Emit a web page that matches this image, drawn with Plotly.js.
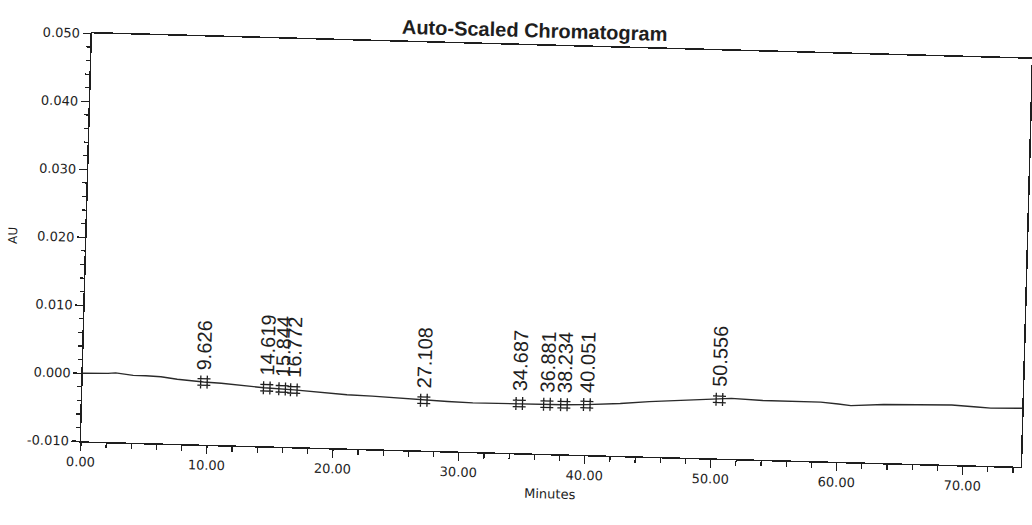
<!DOCTYPE html>
<html>
<head>
<meta charset="utf-8">
<script src="https://cdn.plot.ly/plotly-3.0.1.min.js"></script>
<style>
  html, body { margin: 0; padding: 0; background: #ffffff; overflow: hidden; }
  #chart { width: 1032px; height: 525px; transform: rotate(1.55deg); transform-origin: 50% 50%; }
</style>
</head>
<body>
<div id="chart"></div>
<script>
// Baseline trace (minutes, AU)
const timeMin = [0, 1, 2, 2.6, 3.2, 4, 5, 6.2, 7.5, 8.6, 9.6, 11, 12.5, 14.4, 16.8, 18.9, 21, 23, 25, 27, 29, 31, 33, 35, 37, 38.2, 40, 42.7, 45, 47.5, 50.6, 51.5, 54, 56, 58.6, 60, 61, 63.6, 66, 68.4, 69, 71, 72.1, 74.6];
const absorbance = [0.0000, 0.0000, 0.0001, 0.0002, 0.0001, -0.0001, -0.0001, -0.0002, -0.0005, -0.0007, -0.0008, -0.0009, -0.0011, -0.0014, -0.0016, -0.0019, -0.0021, -0.0022, -0.0024, -0.0026, -0.0027, -0.0028, -0.0028, -0.0027, -0.0027, -0.0027, -0.0026, -0.0023, -0.0019, -0.0016, -0.0013, -0.0011, -0.0013, -0.0013, -0.0013, -0.0015, -0.0017, -0.0014, -0.0013, -0.0013, -0.0012, -0.0014, -0.0015, -0.0014];

// Labelled peaks
const peakTimes = [9.626, 14.619, 15.844, 16.772, 27.108, 34.687, 36.881, 38.234, 40.051, 50.556];
const peakHeights = [-0.0008, -0.0014, -0.0015, -0.0016, -0.0026, -0.0027, -0.0027, -0.0027, -0.0026, -0.0013];
const peakLabels = ["9.626", "14.619", "15.844", "16.772", "27.108", "34.687", "36.881", "38.234", "40.051", "50.556"];

// Axis tick labels
const yTickVals = [-0.010, 0.000, 0.010, 0.020, 0.030, 0.040, 0.050];
const yTickText = ["-0.010", "0.000", "0.010", "0.020", "0.030", "0.040", "0.050"];

const ink = '#1e1e1e';

const traces = [
  {
    x: timeMin, y: absorbance, type: 'scatter', mode: 'lines',
    line: { color: '#2a2a2a', width: 1.4 }, hoverinfo: 'skip', showlegend: false
  },
  {
    x: peakTimes, y: peakHeights, type: 'scatter', mode: 'markers',
    marker: { symbol: 'hash-open', size: 13, color: ink, line: { color: ink, width: 1.3 } },
    hoverinfo: 'skip', showlegend: false
  }
];

const annotations = peakTimes.map((t, i) => ({
  x: t, y: peakHeights[i], xref: 'x', yref: 'y',
  text: peakLabels[i], textangle: -90, showarrow: false,
  xanchor: 'center', yanchor: 'bottom', yshift: 10,
  font: { family: 'Liberation Sans, Arial, sans-serif', size: 20, color: ink }
}));

const layout = {
  width: 1032, height: 525,
  margin: { l: 86, r: 6, t: 45, b: 72 },
  paper_bgcolor: '#ffffff', plot_bgcolor: '#ffffff',
  showlegend: false,
  title: {
    text: '<b>Auto-Scaled Chromatogram</b>',
    font: { family: 'Liberation Sans, Arial, sans-serif', size: 20, color: ink },
    xref: 'container', x: 0.512, xanchor: 'center',
    yref: 'container', y: 0.943, yanchor: 'middle'
  },
  xaxis: {
    range: [0, 74.6], showgrid: false, zeroline: false,
    showline: true, linecolor: ink, linewidth: 1.5, mirror: true,
    ticks: 'outside', ticklen: 8, tickwidth: 1.3, tickcolor: ink,
    dtick: 10, tick0: 0, tickformat: '.2f',
    tickfont: { family: 'DejaVu Sans, sans-serif', size: 13, color: ink },
    minor: { dtick: 2, ticks: 'outside', ticklen: 5, tickwidth: 1.2, tickcolor: ink, showgrid: false },
    title: { text: 'Minutes', standoff: 8, font: { family: 'DejaVu Sans, sans-serif', size: 13, color: ink } }
  },
  yaxis: {
    range: [-0.010, 0.050], showgrid: false, zeroline: false,
    showline: true, linecolor: ink, linewidth: 1.5, mirror: true,
    ticks: 'outside', ticklen: 8, tickwidth: 1.3, tickcolor: ink,
    tickmode: 'array', tickvals: yTickVals, ticktext: yTickText,
    tickfont: { family: 'DejaVu Sans, sans-serif', size: 13, color: ink },
    minor: { dtick: 0.002, ticks: 'outside', ticklen: 4, tickwidth: 1.2, tickcolor: ink, showgrid: false },
    title: { text: 'AU', standoff: 12, font: { family: 'DejaVu Sans, sans-serif', size: 12, color: ink } }
  },
  annotations: annotations
};

Plotly.newPlot('chart', traces, layout, { displayModeBar: false, staticPlot: true });
</script>
</body>
</html>
